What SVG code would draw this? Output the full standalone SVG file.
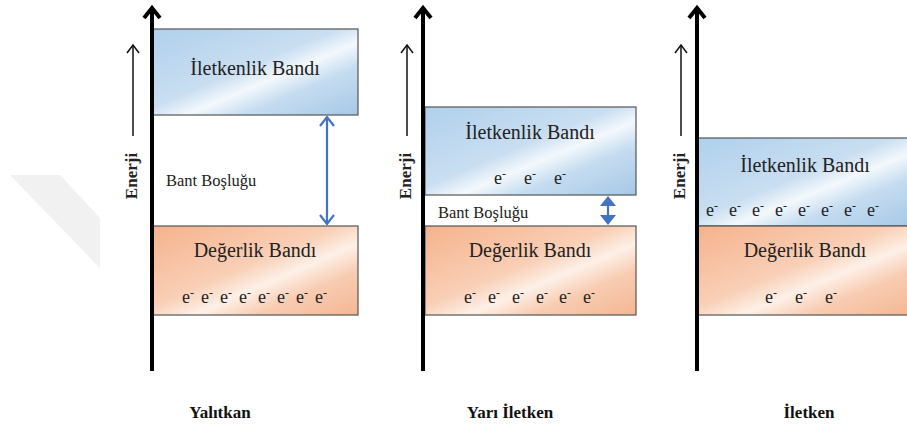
<svg xmlns="http://www.w3.org/2000/svg" width="907" height="437" viewBox="0 0 907 437">
<style>
.axis{stroke:#000;stroke-width:4;fill:none}
.axhead{stroke:#000;stroke-width:4;fill:none;stroke-linejoin:miter;stroke-linecap:butt}
.small{stroke:#111;stroke-width:1.5;fill:none}
.band{stroke:#555;stroke-width:1.2}
text{font-family:'Liberation Serif','DejaVu Serif',serif;fill:#222}
.lbl{font-size:20px;text-anchor:middle}
.el{font-size:18px;text-anchor:middle}
.sup{font-size:12px}
.gap{font-size:16.5px}
.en{font-size:17px;font-weight:bold;text-anchor:middle}
.ttl{font-size:17px;font-weight:bold;fill:#111;text-anchor:middle}
.blue{stroke:#4472c4;stroke-width:2.2;fill:none}
</style>
<defs>
<linearGradient id="gb" x1="0" y1="0" x2="1" y2="1">
<stop offset="0" stop-color="#afd0ec"/>
<stop offset="0.45" stop-color="#c9def1"/>
<stop offset="0.58" stop-color="#f3f8fc"/>
<stop offset="0.72" stop-color="#c5dcf0"/>
<stop offset="1" stop-color="#a6c8e6"/>
</linearGradient>
<linearGradient id="go" x1="0" y1="0" x2="1" y2="1">
<stop offset="0" stop-color="#f5b28c"/>
<stop offset="0.45" stop-color="#f9cfb6"/>
<stop offset="0.6" stop-color="#fdf0e7"/>
<stop offset="0.75" stop-color="#f8ccb2"/>
<stop offset="1" stop-color="#f4b693"/>
</linearGradient>
</defs>
<rect width="907" height="437" fill="#fff"/>
<polygon points="10,175 60,175 100,218 100,268" fill="#f1f1f1"/>

<g id="yalitkan" font-family="Liberation Serif, DejaVu Serif, serif">
<rect class="band" x="153" y="29" width="205" height="86" fill="url(#gb)"/>
<rect class="band" x="153" y="226" width="205" height="89" fill="url(#go)"/>
<text class="lbl" x="255" y="75">İletkenlik Bandı</text>
<text class="lbl" x="255" y="257">Değerlik Bandı</text>
<text class="el" x="188" y="303">e<tspan class="sup" dy="-6">-</tspan></text>
<text class="el" x="207" y="303">e<tspan class="sup" dy="-6">-</tspan></text>
<text class="el" x="226" y="303">e<tspan class="sup" dy="-6">-</tspan></text>
<text class="el" x="245" y="303">e<tspan class="sup" dy="-6">-</tspan></text>
<text class="el" x="264" y="303">e<tspan class="sup" dy="-6">-</tspan></text>
<text class="el" x="283" y="303">e<tspan class="sup" dy="-6">-</tspan></text>
<text class="el" x="302" y="303">e<tspan class="sup" dy="-6">-</tspan></text>
<text class="el" x="321" y="303">e<tspan class="sup" dy="-6">-</tspan></text>
<text class="gap" x="166" y="186">Bant Boşluğu</text>
<line class="small" x1="133" y1="136" x2="133" y2="46"/>
<path class="small" d="M127,53 L133,45 L139,53"/>
<text class="en" transform="translate(137,176) rotate(-90)">Enerji</text>
<line class="axis" x1="152" y1="8" x2="152" y2="371"/>
<path class="axhead" d="M144,18 L152,8 L160,18"/>
<text class="ttl" x="220" y="418">Yalıtkan</text>
</g>

<g id="yari-iletken" font-family="Liberation Serif, DejaVu Serif, serif">
<rect class="band" x="425" y="107" width="211" height="88" fill="url(#gb)"/>
<rect class="band" x="425" y="226" width="211" height="89" fill="url(#go)"/>
<text class="lbl" x="530" y="139">İletkenlik Bandı</text>
<text class="el" x="500" y="184">e<tspan class="sup" dy="-6">-</tspan></text>
<text class="el" x="530" y="184">e<tspan class="sup" dy="-6">-</tspan></text>
<text class="el" x="560" y="184">e<tspan class="sup" dy="-6">-</tspan></text>
<text class="lbl" x="530" y="257">Değerlik Bandı</text>
<text class="el" x="470" y="303">e<tspan class="sup" dy="-6">-</tspan></text>
<text class="el" x="494" y="303">e<tspan class="sup" dy="-6">-</tspan></text>
<text class="el" x="518" y="303">e<tspan class="sup" dy="-6">-</tspan></text>
<text class="el" x="542" y="303">e<tspan class="sup" dy="-6">-</tspan></text>
<text class="el" x="565" y="303">e<tspan class="sup" dy="-6">-</tspan></text>
<text class="el" x="589" y="303">e<tspan class="sup" dy="-6">-</tspan></text>
<text class="gap" x="438" y="218">Bant Boşluğu</text>
<line class="small" x1="407" y1="136" x2="407" y2="46"/>
<path class="small" d="M401,53 L407,45 L413,53"/>
<text class="en" transform="translate(411,176) rotate(-90)">Enerji</text>
<line class="axis" x1="423" y1="8" x2="423" y2="371"/>
<path class="axhead" d="M415,18 L423,8 L431,18"/>
<text class="ttl" x="510" y="418">Yarı İletken</text>
</g>

<g id="iletken" font-family="Liberation Serif, DejaVu Serif, serif">
<rect class="band" x="698" y="138" width="215" height="88" fill="url(#gb)"/>
<rect class="band" x="698" y="226" width="215" height="89" fill="url(#go)"/>
<text class="lbl" x="805" y="172">İletkenlik Bandı</text>
<text class="el" x="712" y="216">e<tspan class="sup" dy="-6">-</tspan></text>
<text class="el" x="735" y="216">e<tspan class="sup" dy="-6">-</tspan></text>
<text class="el" x="758" y="216">e<tspan class="sup" dy="-6">-</tspan></text>
<text class="el" x="781" y="216">e<tspan class="sup" dy="-6">-</tspan></text>
<text class="el" x="804" y="216">e<tspan class="sup" dy="-6">-</tspan></text>
<text class="el" x="827" y="216">e<tspan class="sup" dy="-6">-</tspan></text>
<text class="el" x="850" y="216">e<tspan class="sup" dy="-6">-</tspan></text>
<text class="el" x="873" y="216">e<tspan class="sup" dy="-6">-</tspan></text>
<text class="lbl" x="805" y="257">Değerlik Bandı</text>
<text class="el" x="771" y="303">e<tspan class="sup" dy="-6">-</tspan></text>
<text class="el" x="801" y="303">e<tspan class="sup" dy="-6">-</tspan></text>
<text class="el" x="831" y="303">e<tspan class="sup" dy="-6">-</tspan></text>
<line class="small" x1="681" y1="136" x2="681" y2="46"/>
<path class="small" d="M675,53 L681,45 L687,53"/>
<text class="en" transform="translate(685,176) rotate(-90)">Enerji</text>
<line class="axis" x1="697" y1="8" x2="697" y2="371"/>
<path class="axhead" d="M689,18 L697,8 L705,18"/>
<text class="ttl" x="809" y="418">İletken</text>
</g>

<g id="connectors">
<line class="blue" x1="327" y1="117" x2="327" y2="224"/>
<path class="blue" d="M320,126 L327,117 L334,126"/>
<path class="blue" d="M320,215 L327,224 L334,215"/>
<line class="blue" x1="608" y1="200" x2="608" y2="221"/>
<polygon points="608,196 600,206 616,206" fill="#4472c4"/>
<polygon points="608,225 600,215 616,215" fill="#4472c4"/>
</g>
</svg>
